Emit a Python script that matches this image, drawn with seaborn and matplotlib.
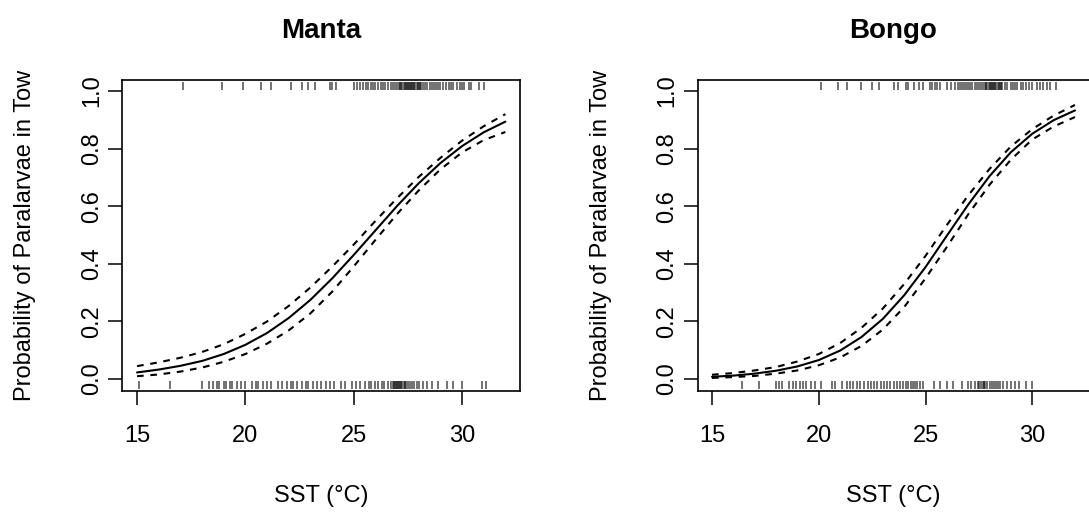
import matplotlib
matplotlib.use("Agg")
import matplotlib.pyplot as plt
import seaborn as sns

# Sea-surface temperature grid (°C) for the fitted curves
sst = [15, 16, 17, 18, 19, 20, 21, 22, 23, 24, 25, 26, 27, 28, 29, 30, 31, 32]

# Manta net: fitted probability and 95% bounds
manta_fit = [0.023, 0.033, 0.046, 0.063, 0.087, 0.119, 0.160, 0.212, 0.275, 0.349,
             0.431, 0.516, 0.601, 0.680, 0.750, 0.809, 0.857, 0.894]
manta_upper = [0.045, 0.058, 0.074, 0.094, 0.121, 0.157, 0.200, 0.254, 0.318, 0.390,
               0.467, 0.549, 0.628, 0.702, 0.768, 0.828, 0.878, 0.920]
manta_lower = [0.010, 0.016, 0.026, 0.040, 0.060, 0.087, 0.123, 0.169, 0.228, 0.303,
               0.391, 0.483, 0.573, 0.655, 0.728, 0.787, 0.830, 0.858]

# Bongo net: fitted probability and 95% bounds
bongo_fit = [0.008, 0.012, 0.019, 0.029, 0.044, 0.066, 0.099, 0.146, 0.209, 0.291,
             0.389, 0.498, 0.606, 0.705, 0.788, 0.852, 0.899, 0.933]
bongo_upper = [0.015, 0.021, 0.030, 0.042, 0.061, 0.087, 0.125, 0.178, 0.245, 0.330,
               0.428, 0.535, 0.638, 0.730, 0.808, 0.868, 0.915, 0.952]
bongo_lower = [0.004, 0.007, 0.011, 0.019, 0.030, 0.048, 0.075, 0.115, 0.172, 0.250,
               0.350, 0.459, 0.572, 0.675, 0.762, 0.832, 0.877, 0.910]

# Observed tows: SST where paralarvae were present / absent
manta_present = [17.1, 18.9, 19.9, 20.7, 21.2, 22.1, 22.6, 22.9, 23.2, 23.9, 24.0, 24.2,
                 25.0, 25.15, 25.3, 25.45, 25.55, 25.65, 25.8, 25.9, 26.0, 26.1, 26.25,
                 26.35, 26.45, 26.6, 26.7, 26.8, 26.9, 27.0, 27.1, 27.15, 27.2, 27.25,
                 27.3, 27.35, 27.4, 27.45, 27.5, 27.55, 27.6, 27.65, 27.7, 27.75, 27.8,
                 27.85, 27.9, 27.95, 28.0, 28.05, 28.1, 28.2, 28.3, 28.4, 28.5, 28.6,
                 28.7, 28.8, 28.9, 29.0, 29.1, 29.25, 29.4, 29.5, 29.6, 29.75, 29.9,
                 30.0, 30.1, 30.3, 30.4, 30.8, 31.0]
manta_absent = [15.1, 16.5, 18.0, 18.3, 18.5, 18.7, 18.8, 19.0, 19.1, 19.3, 19.4, 19.6,
                19.8, 20.0, 20.3, 20.5, 20.6, 20.8, 21.0, 21.2, 21.5, 21.7, 21.9, 22.1,
                22.2, 22.4, 22.6, 22.8, 22.9, 23.1, 23.3, 23.5, 23.7, 23.9, 24.1, 24.4,
                24.6, 24.9, 25.1, 25.3, 25.5, 25.7, 25.8, 26.0, 26.1, 26.3, 26.4, 26.6,
                26.7, 26.8, 26.85, 26.9, 26.95, 27.0, 27.05, 27.1, 27.15, 27.2, 27.25,
                27.3, 27.35, 27.4, 27.5, 27.6, 27.7, 27.8, 27.9, 28.0, 28.2, 28.4, 28.6,
                28.9, 29.3, 29.6, 30.0, 30.9, 31.1]
bongo_present = [20.1, 20.9, 21.3, 22.0, 22.5, 22.8, 23.5, 23.7, 24.1, 24.2, 24.45, 24.7,
                 24.9, 25.2, 25.3, 25.45, 25.55, 25.7, 26.0, 26.2, 26.4, 26.5, 26.6,
                 26.7, 26.8, 26.9, 27.0, 27.1, 27.2, 27.3, 27.4, 27.5, 27.6, 27.7, 27.8,
                 27.85, 27.9, 27.95, 28.0, 28.05, 28.1, 28.15, 28.2, 28.25, 28.3, 28.4,
                 28.45, 28.5, 28.55, 28.6, 28.7, 28.8, 29.0, 29.1, 29.2, 29.3, 29.45,
                 29.55, 29.7, 29.85, 30.0, 30.2, 30.35, 30.5, 30.7, 30.85, 31.1]
bongo_absent = [16.4, 17.2, 18.0, 18.15, 18.3, 18.6, 18.8, 18.95, 19.1, 19.25, 19.4,
                19.65, 19.8, 20.1, 20.6, 20.75, 21.1, 21.3, 21.45, 21.6, 21.8, 21.95,
                22.1, 22.3, 22.45, 22.6, 22.75, 22.9, 23.05, 23.2, 23.35, 23.5, 23.65,
                23.8, 23.95, 24.1, 24.2, 24.3, 24.4, 24.5, 24.6, 24.75, 24.9, 25.4, 25.7,
                26.0, 26.3, 26.7, 27.0, 27.15, 27.3, 27.45, 27.5, 27.6, 27.7, 27.75,
                27.8, 27.9, 28.0, 28.1, 28.2, 28.3, 28.4, 28.5, 28.65, 28.8, 29.0, 29.2,
                29.4, 29.7, 30.0]

panel_titles = ["Manta", "Bongo"]
x_ticks = [15, 20, 25, 30]
y_ticks = [0.0, 0.2, 0.4, 0.6, 0.8, 1.0]
y_tick_labels = ["0.0", "0.2", "0.4", "0.6", "0.8", "1.0"]

sns.set_theme(style="white")
plt.rcParams["font.family"] = ["Liberation Sans", "DejaVu Sans"]

W, H = 1089, 512
fig = plt.figure(figsize=(W / 100, H / 100), dpi=100)
ax_m = fig.add_axes([122.3 / W, (H - 390.6) / H, 397.8 / W, 311.0 / H])
ax_b = fig.add_axes([697.5 / W, (H - 390.6) / H, 392.0 / W, 311.0 / H])

dash = (0, (3.2, 3.2))
panels = [
    (ax_m, manta_fit, manta_upper, manta_lower, manta_present, manta_absent),
    (ax_b, bongo_fit, bongo_upper, bongo_lower, bongo_present, bongo_absent),
]

for (ax, fit, up, lo, pres, absn), title in zip(panels, panel_titles):
    sns.lineplot(x=sst, y=fit, ax=ax, color="black", linewidth=1.5)
    sns.lineplot(x=sst, y=up, ax=ax, color="black", linewidth=1.5, linestyle=dash)
    sns.lineplot(x=sst, y=lo, ax=ax, color="black", linewidth=1.5, linestyle=dash)

    # rug of observed tows (presence above, absence below)
    ax.vlines(pres, 1.004, 1.030, color="black", linewidth=1.1, alpha=0.7)
    ax.vlines(absn, -0.033, -0.006, color="black", linewidth=1.1, alpha=0.7)

    ax.set_xlim(14.32, 32.68)
    ax.set_ylim(-0.04, 1.04)
    ax.set_xticks(x_ticks)
    ax.set_xticklabels([str(t) for t in x_ticks])
    ax.set_yticks(y_ticks)
    ax.set_yticklabels(y_tick_labels, rotation=90, va="center")

    ax.tick_params(axis="both", which="both", direction="out", length=10,
                   width=1.1, color="black", labelsize=17, labelcolor="black",
                   bottom=True, left=True, top=False, right=False)
    ax.tick_params(axis="x", pad=15)
    ax.tick_params(axis="y", pad=4)
    for sp in ax.spines.values():
        sp.set_visible(True)
        sp.set_color("black")
        sp.set_linewidth(1.2)

    ax.set_title(title, fontsize=20, fontweight="bold", pad=30, color="black")
    ax.set_xlabel("SST (°C)", fontsize=17, labelpad=27, color="black")
    ax.set_ylabel("Probability of Paralarvae in Tow", fontsize=17, labelpad=32,
                  color="black")
    ax.grid(False)

fig.savefig("out.png", dpi=100, facecolor="white")
